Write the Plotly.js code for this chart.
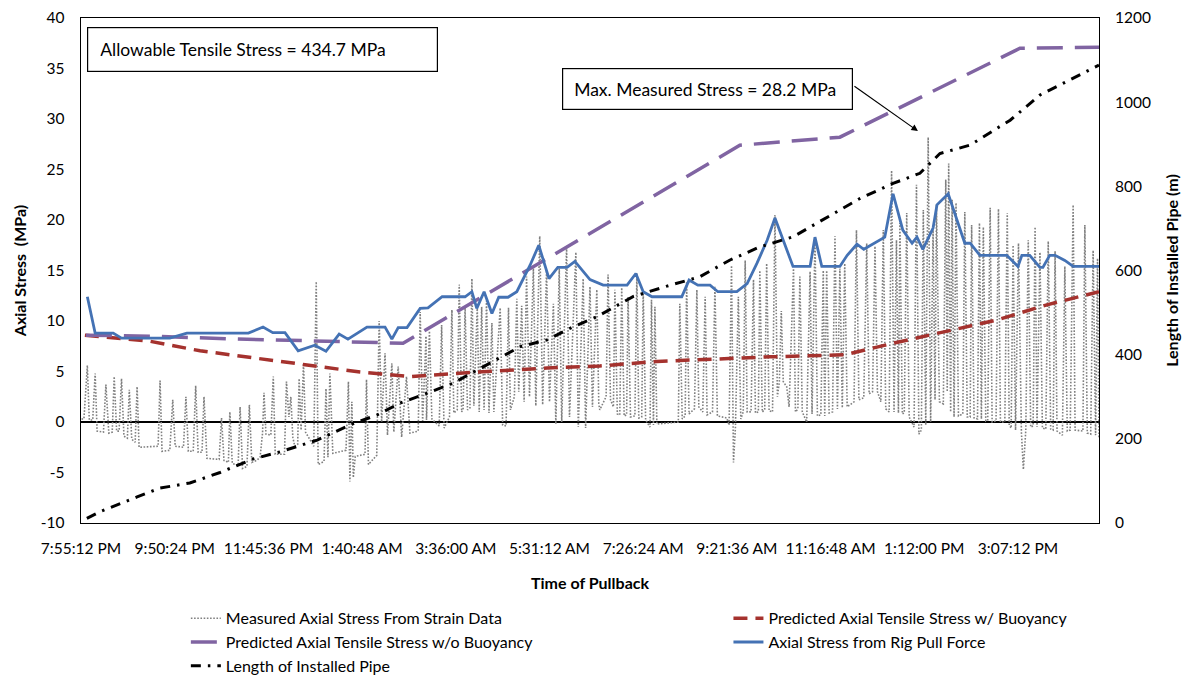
<!DOCTYPE html>
<html>
<head>
<meta charset="utf-8">
<script src="https://cdn.plot.ly/plotly-3.0.1.min.js"></script>
<style>
html,body{margin:0;padding:0;background:#ffffff;}
#chart{width:1187px;height:677px;}
</style>
</head>
<body>
<div id="chart"></div>
<script>
// Time axis: hours elapsed since 7:55:12 PM (start of pullback)
const tickHours = [0, 1.92, 3.84, 5.76, 7.68, 9.6, 11.52, 13.44, 15.36, 17.28, 19.2];
const tickLabels = ["7:55:12 PM", "9:50:24 PM", "11:45:36 PM", "1:40:48 AM", "3:36:00 AM",
  "5:31:12 AM", "7:26:24 AM", "9:21:36 AM", "11:16:48 AM", "1:12:00 PM", "3:07:12 PM"];
const stressTicks = [-10, -5, 0, 5, 10, 15, 20, 25, 30, 35, 40];
const stressTickLabels = ["-10", "-5", "0", "5", "10", "15", "20", "25", "30", "35", "40"];

// Measured Axial Stress From Strain Data (MPa)
const measuredTime = [
 0.01,0.06,0.13,0.17,0.24,0.29,0.33,0.46,0.51,0.57,0.64,0.68,0.73,0.78,0.83,0.88,0.95,0.99,1.04,1.11,1.15,1.19,1.58,1.62,1.66,1.82,1.88,1.93,2.10,2.15,2.20,2.30,2.35,2.40,2.48,2.52,2.58,2.83,2.88,2.93,3.02,3.05,3.10,3.22,3.26,3.31,3.40,3.45,3.50,3.60,
 3.67,3.72,3.75,3.79,3.89,3.94,3.98,4.17,4.21,4.26,4.30,4.34,4.38,4.44,4.47,4.51,4.56,4.60,4.77,4.82,4.86,4.98,5.02,5.06,5.10,5.16,5.43,5.48,5.51,5.55,5.58,5.62,5.82,5.85,5.89,6.06,6.11,6.16,6.23,6.28,6.37,6.41,6.50,6.57,6.67,6.74,6.91,6.95,7.00,7.07,
 7.08,7.14,7.19,7.34,7.39,7.44,7.55,7.60,7.64,7.71,7.75,7.80,7.83,7.87,7.92,7.97,8.01,8.05,8.12,8.16,8.21,8.26,8.31,8.36,8.42,8.46,8.59,8.64,8.71,8.76,8.80,8.88,8.93,8.97,9.03,9.08,9.13,9.19,9.27,9.32,9.40,9.46,9.54,9.60,9.68,9.73,9.80,9.85,9.95,10.01,10.14,10.19,10.29,10.34,10.43,10.48,10.57,10.61,
 10.63,10.76,10.80,10.85,10.91,10.94,10.99,11.04,11.08,11.13,11.18,11.21,11.26,11.35,11.39,11.43,11.49,11.52,11.57,11.66,11.69,11.73,11.76,11.80,12.24,12.27,12.32,12.38,12.41,12.46,12.57,12.62,12.66,12.74,12.79,12.83,12.94,12.99,13.04,13.23,13.28,13.33,13.37,13.41,13.47,13.52,13.57,13.61,13.65,13.73,13.78,13.82,13.88,13.91,13.96,14.01,14.05,14.10,
 14.17,14.22,14.27,14.31,14.35,14.39,14.46,14.51,14.60,14.64,14.69,14.73,14.78,14.87,14.94,14.98,15.04,15.09,15.16,15.21,15.24,15.28,15.33,15.40,15.45,15.50,15.55,15.60,15.65,15.70,15.84,15.89,15.94,16.04,16.10,16.15,16.22,16.27,16.32,16.39,16.44,16.49,16.56,16.61,16.66,16.71,16.75,16.78,16.83,16.87,16.92,16.97,17.07,17.12,17.17,17.22,17.26,17.31,17.36,17.41,17.46,
 17.50,17.53,17.59,17.67,17.72,17.75,17.78,17.82,17.85,17.89,17.93,17.98,18.07,18.11,18.16,18.22,18.25,18.30,18.37,18.41,18.45,18.49,18.54,18.58,18.63,18.67,18.75,18.80,18.84,18.93,18.98,19.02,19.06,19.10,19.15,19.21,19.27,19.31,19.36,19.41,19.46,19.51,19.55,19.59,19.65,19.70,19.77,19.82,19.87,19.92,19.96,20.00,20.11,20.16,20.21,20.27,20.33,20.37,20.53,20.57,20.62,20.69,20.74,20.79,20.83,20.86
];
const measuredStress = [
 0.3,0.3,5.6,0.2,0.2,4.8,-0.9,-1.0,3.7,-1.1,-1.0,4.5,-0.9,-0.9,4.3,-1.4,-1.6,3.2,-1.7,-2.0,3.5,-2.5,-2.4,4.1,-2.9,-2.8,2.2,-2.4,-2.5,2.5,-2.9,-2.9,3.6,-3.0,-3.0,2.5,-3.6,-3.7,0.4,-3.8,-4.0,1.0,-4.1,-4.3,1.5,-4.6,-4.4,1.7,-4.0,-3.8,
 -3.5,-1.1,2.9,-1.2,-1.3,4.5,-3.2,-3.2,4.0,0.5,2.5,-1.5,-2.4,-2.2,4.3,-0.8,5.8,-1.0,-2.4,13.9,-4.2,-3.9,3.3,-3.5,4.8,-3.1,-2.8,4.0,-5.9,2.0,-5.5,-3.4,-3.2,4.2,-4.2,-3.3,10.0,0.0,6.8,-1.3,5.8,-1.0,5.5,-1.5,4.5,-1.1,-0.9,10.9,0.1,8.5,
 0.2,9.0,0.3,-0.4,9.6,-0.6,0.5,11.1,0.9,1.2,13.6,1.0,1.3,11.4,1.2,1.4,14.2,1.6,11.4,1.0,11.4,1.2,12.0,0.9,9.8,1.0,11.3,-0.3,-0.4,11.3,1.2,2.5,12.2,3.0,11.5,2.0,14.4,2.5,15.2,1.6,18.4,1.7,15.0,2.0,11.7,-0.2,15.2,0.0,17.3,0.5,16.8,-0.5,14.2,-0.6,13.4,1.5,13.1,1.8,
 1.2,2.5,14.6,2.2,1.5,13.1,0.8,0.7,13.3,0.6,0.7,12.4,0.5,0.6,14.7,0.4,0.5,13.1,0.2,-0.5,12.1,-0.3,11.4,-0.2,0.0,11.7,0.3,0.6,13.9,0.8,1.3,13.1,1.5,1.0,12.4,0.7,1.0,13.4,0.6,0.4,-0.3,15.5,-4.0,-0.5,12.4,0.3,1.0,16.0,1.0,1.0,14.1,0.9,1.0,15.0,1.0,1.2,15.7,1.1,
 1.0,20.5,2.5,4.0,11.0,4.0,3.5,1.5,15.2,1.0,1.3,14.4,1.0,0.0,14.9,0.8,18.3,0.6,0.7,15.0,0.6,15.0,0.9,1.0,18.4,1.3,15.2,1.4,15.7,1.5,2.0,19.0,2.2,2.4,17.7,2.8,3.0,17.4,3.0,2.0,19.0,1.3,1.0,24.9,1.0,18.0,0.9,19.7,0.8,0.9,20.7,0.5,-0.5,23.5,-1.2,-0.8,21.0,-0.3,28.2,0.0,19.0,
 2.2,21.5,2.0,1.8,24.0,3.0,25.6,1.0,22.0,0.5,21.7,0.6,0.8,20.8,0.5,0.5,19.5,0.4,0.3,19.7,0.3,19.3,0.1,0.2,21.2,0.0,0.1,21.1,0.0,0.0,20.7,-0.3,-0.6,17.5,-0.8,17.7,-1.0,-4.7,-0.8,18.0,-0.5,-0.4,19.3,-0.5,16.8,-0.6,-0.7,17.9,-0.7,-0.8,16.9,-0.9,-1.3,15.4,-0.9,-0.8,21.5,-0.8,-0.9,19.5,-1.1,-1.2,17.0,-1.3,16.2,-1.5
];

// Predicted Axial Tensile Stress w/ Buoyancy (MPa)
const buoyTime = [0.08,1.41,2.44,3.52,4.55,5.72,6.74,8.32,9.55,10.63,11.80,14.12,15.65,16.64,17.60,18.77,19.79,20.86];
const buoyStress = [8.6,8.0,7.05,6.4,5.7,4.95,4.5,5.0,5.35,5.55,6.0,6.45,6.65,7.8,8.8,10.1,11.6,12.9];

// Predicted Axial Tensile Stress w/o Buoyancy (MPa)
const noBuoyTime = [0.10,1.41,2.99,4.49,6.00,6.60,13.50,15.55,19.24,20.86];
const noBuoyStress = [8.6,8.5,8.25,8.05,7.9,7.8,27.4,28.2,37.0,37.1];

// Axial Stress from Rig Pull Force (MPa)
const rigTime = [0.13,0.29,0.66,0.83,1.82,2.17,3.43,3.73,3.93,4.18,4.45,4.79,5.02,5.29,5.47,5.86,6.23,6.37,6.50,6.68,6.95,7.11,7.40,7.87,8.01,8.11,8.26,8.42,8.56,8.75,8.93,9.20,9.38,9.59,9.77,9.96,10.12,10.43,10.70,11.19,11.37,11.52,11.70,12.31,12.46,12.64,12.89,13.05,13.44,13.65,13.85,14.06,14.22,14.59,14.94,15.04,15.18,15.55,15.70,15.90,16.04,16.47,16.64,16.84,17.03,17.13,17.25,17.46,17.54,17.77,18.11,18.22,18.42,18.97,19.20,19.28,19.44,19.65,19.71,19.85,19.96,20.16,20.33,20.86];
const rigStress = [12.4,8.8,8.8,8.3,8.3,8.8,8.8,9.4,8.85,8.85,7.05,7.6,7.0,8.7,8.2,9.4,9.4,8.2,9.35,9.35,11.25,11.3,12.4,12.4,12.9,11.25,12.9,10.75,12.35,12.35,12.9,15.5,17.5,14.2,15.3,15.3,15.9,14.1,13.55,13.55,14.7,12.9,12.4,12.4,14.05,13.55,13.55,12.9,12.9,13.7,15.7,18.0,20.2,15.4,15.4,18.3,15.4,15.4,16.5,17.6,17.1,18.3,22.6,19.0,17.7,18.3,17.1,19.2,21.5,22.6,17.7,17.7,16.5,16.5,15.4,16.5,16.5,15.3,15.3,16.5,16.5,16.0,15.4,15.4];

// Length of Installed Pipe (m), right axis
const pipeTime = [0.12,0.39,1.15,1.62,2.23,2.85,3.52,4.08,4.84,5.51,6.07,6.54,6.99,7.62,8.24,9.00,9.55,10.08,10.57,11.31,12.01,12.68,13.30,13.91,14.59,15.14,15.96,16.64,17.19,17.60,18.22,18.77,19.04,19.65,20.27,20.86];
const pipeLength = [11,27,62,83,95,120,152,169,197,233,257,285,304,332,371,419,435,466,490,538,563,585,625,656,680,716,771,807,831,878,898,938,957,1017,1053,1088];

const maxStressTime = 17.15, maxStressValue = 28.8;

const FONT = 'Lato, Carlito, "Open Sans", sans-serif';
const TICK = 15.5, TITLE = 16;

const traces = [
  {x: measuredTime, y: measuredStress, type: 'scatter', mode: 'lines',
   name: 'Measured Axial Stress From Strain Data', legend: 'legend', legendgroup: 'g1',
   line: {color: '#808080', width: 1.6, dash: '1.6px,1.6px'}},
  {x: buoyTime, y: buoyStress, type: 'scatter', mode: 'lines',
   name: 'Predicted Axial Tensile Stress w/ Buoyancy', legend: 'legend2', legendgroup: 'g2',
   line: {color: '#a5322e', width: 3.5, dash: '14px,8px'}},
  {x: noBuoyTime, y: noBuoyStress, type: 'scatter', mode: 'lines',
   name: 'Predicted Axial Tensile Stress w/o Buoyancy', legend: 'legend', legendgroup: 'g3',
   line: {color: '#8064a2', width: 3.5, dash: '26px,12px'}},
  {x: rigTime, y: rigStress, type: 'scatter', mode: 'lines',
   name: 'Axial Stress from Rig Pull Force', legend: 'legend2', legendgroup: 'g4',
   line: {color: '#4472b4', width: 2.8}},
  {x: pipeTime, y: pipeLength, type: 'scatter', mode: 'lines', yaxis: 'y2',
   name: 'Length of Installed Pipe', legend: 'legend', legendgroup: 'g5',
   line: {color: '#000000', width: 3, dash: '10px,7px,2.5px,7px'}}
];

const legendCommon = {
  orientation: 'v', xanchor: 'left', yanchor: 'top', traceorder: 'grouped',
  tracegroupgap: 0, bgcolor: 'rgba(0,0,0,0)', borderwidth: 0,
  font: {family: FONT, size: 16, color: '#000'}
};

const layout = {
  width: 1187, height: 677,
  margin: {l: 81, r: 88, t: 18, b: 154, pad: 0, autoexpand: false},
  paper_bgcolor: '#fff', plot_bgcolor: '#fff',
  font: {family: FONT, size: TICK, color: '#000'},
  showlegend: true,
  legend: Object.assign({x: 0.103, y: -0.155}, legendCommon),
  legend2: Object.assign({x: 0.636, y: -0.155}, legendCommon),
  xaxis: {
    range: [0, 20.86], tickmode: 'array', tickvals: tickHours, ticktext: tickLabels,
    showgrid: false, zeroline: false, showline: true, mirror: true,
    linecolor: '#000', linewidth: 1.3, ticks: '', ticklabelstandoff: 11,
    tickfont: {family: FONT, size: TICK, color: '#000'},
    title: {text: 'Time of Pullback', standoff: 22, font: {family: FONT, size: TITLE, color: '#000', weight: 700}}
  },
  yaxis: {
    range: [-10, 40], tickmode: 'array', tickvals: stressTicks, ticktext: stressTickLabels,
    showgrid: false,
    zeroline: true, zerolinecolor: '#000', zerolinewidth: 2,
    showline: true, mirror: true, linecolor: '#000', linewidth: 1.3,
    ticks: '', ticklabelstandoff: 12,
    tickfont: {family: FONT, size: TICK, color: '#000'},
    title: {text: 'Axial Stress  (MPa)', standoff: 10, font: {family: FONT, size: TITLE, color: '#000', weight: 700}}
  },
  yaxis2: {
    overlaying: 'y', side: 'right', range: [0, 1200], dtick: 200,
    showgrid: false, zeroline: false, showline: false, ticks: '', ticklabelstandoff: 15,
    tickfont: {family: FONT, size: TICK, color: '#000'},
    title: {text: 'Length of Installed Pipe (m)', standoff: 16, font: {family: FONT, size: TITLE, color: '#000', weight: 700}}
  },
  annotations: [
    {xref: 'paper', yref: 'paper', x: 0.0059, y: 0.982, xanchor: 'left', yanchor: 'top',
     text: 'Allowable Tensile Stress = 434.7 MPa', showarrow: false, align: 'left',
     width: 325, height: 19, borderpad: 12, bordercolor: '#000', borderwidth: 1.2, bgcolor: '#fff',
     font: {family: FONT, size: 17.5, color: '#000'}},
    {xref: 'x', yref: 'y', x: maxStressTime, y: maxStressValue, ax: -65, ay: -46,
     text: ' ', showarrow: true, arrowhead: 2, arrowsize: 1.1, arrowwidth: 1.2, arrowcolor: '#000',
     standoff: 0, startstandoff: 0, font: {size: 1}},
    {xref: 'paper', yref: 'paper', x: 0.4725, y: 0.901, xanchor: 'left', yanchor: 'top',
     text: 'Max. Measured Stress = 28.2 MPa', showarrow: false, align: 'left',
     width: 267, height: 18, borderpad: 11, bordercolor: '#000', borderwidth: 1.2, bgcolor: '#fff',
     font: {family: FONT, size: 17.5, color: '#000'}}
  ]
};

Plotly.newPlot('chart', traces, layout, {displayModeBar: false, staticPlot: true});
</script>
</body>
</html>
